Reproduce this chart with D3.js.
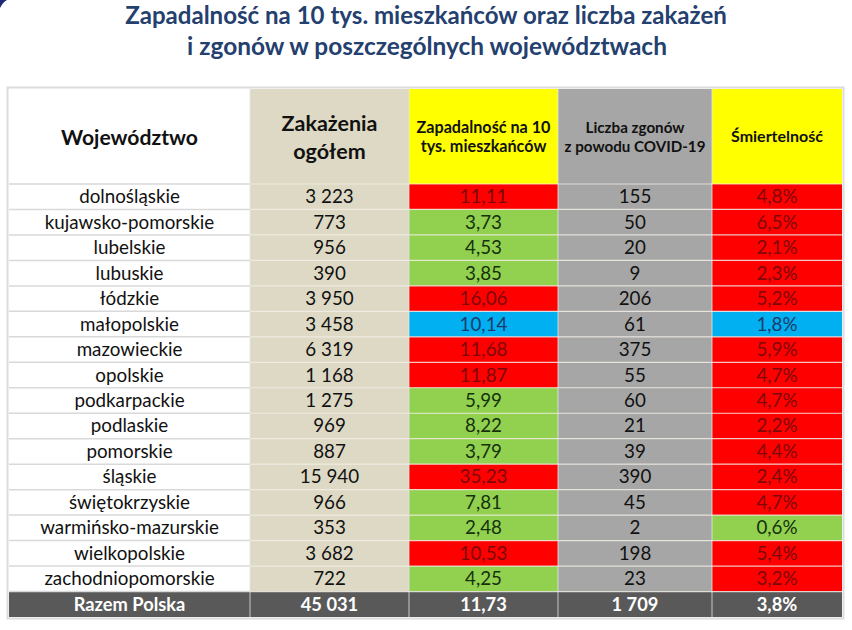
<!DOCTYPE html>
<html><head><meta charset="utf-8">
<script src="https://cdn.jsdelivr.net/npm/d3@7"></script>
<style>body{margin:0;background:#fff}svg{display:block}</style>
</head><body>
<svg id="c" width="852" height="630"></svg>
<script>
const titleLines = ["Zapadalność na 10 tys. mieszkańców oraz liczba zakażeń", "i zgonów w poszczególnych województwach"];
const headers = [["Województwo"], ["Zakażenia", "ogółem"], ["Zapadalność na 10", "tys. mieszkańców"], ["Liczba zgonów", "z powodu COVID-19"], ["Śmiertelność"]];
const regions = ["dolnośląskie","kujawsko-pomorskie","lubelskie","lubuskie","łódzkie","małopolskie","mazowieckie","opolskie","podkarpackie","podlaskie","pomorskie","śląskie","świętokrzyskie","warmińsko-mazurskie","wielkopolskie","zachodniopomorskie"];
const infections = [3223,773,956,390,3950,3458,6319,1168,1275,969,887,15940,966,353,3682,722];
const incidence = [11.11,3.73,4.53,3.85,16.06,10.14,11.68,11.87,5.99,8.22,3.79,35.23,7.81,2.48,10.53,4.25];
const deaths = [155,50,20,9,206,61,375,55,60,21,39,390,45,2,198,23];
const mortality = [4.8,6.5,2.1,2.3,5.2,1.8,5.9,4.7,4.7,2.2,4.4,2.4,4.7,0.6,5.4,3.2];
const incidenceClass = ["high","low","low","low","high","mid","high","high","low","low","low","high","low","low","high","low"];
const mortalityClass = ["high","high","high","high","high","mid","high","high","high","high","high","high","high","low","high","high"];
const totalLabel = "Razem Polska";
const totals = {infections:45031, incidence:11.73, deaths:1709, mortality:3.8};

const fillOf = {high:"#ff0000", low:"#92d050", mid:"#00b0f0"};
const textOf = {high:"#7c0808", low:"#15320b", mid:"#1b3a6b"};
const colFill = ["#ffffff","#ddd9c4","#ffff00","#a6a6a6","#ffff00"];
const colEdges = [9, 250, 409, 558, 712, 842];

const svg = d3.select("#c");
const FONT = "Lato, 'Open Sans', sans-serif";

const fmtInt = v => d3.format(",")(v).replace(/,/g, " ");
const fmtDec = v => d3.format(".2f")(v).replace(".", ",");
const fmtPct = v => d3.format(".1f")(v).replace(".", ",") + "%";

function fitText(sel, w) {
  const cur = sel.node().getComputedTextLength();
  const fs = parseFloat(sel.attr("font-size"));
  sel.attr("font-size", fs * w / cur);
}
const t1 = svg.append("text").attr("x", 426).attr("y", 24).attr("text-anchor","middle")
  .attr("font-family", FONT).attr("font-weight", 700).attr("font-size", 22).attr("fill", "#24406e").text(titleLines[0]);
fitText(t1, 602);
const t2 = svg.append("text").attr("x", 427).attr("y", 55).attr("text-anchor","middle")
  .attr("font-family", FONT).attr("font-weight", 700).attr("font-size", 22).attr("fill", "#24406e").text(titleLines[1]);
fitText(t2, 480);

svg.append("path").attr("d","M0,0 L7,0 Q3,2 0,8 Z").attr("fill","#1b2a7a");

const rowKeys = regions.concat([totalLabel]);
const y = d3.scaleBand().domain(rowKeys).range([184, 617]).padding(0);
const cols = d3.range(5);
const headerTop = 89, headerBottom = 184;

svg.append("rect").attr("x", colEdges[0]-1.5).attr("y", headerTop-1.5)
  .attr("width", colEdges[5]-colEdges[0]+3).attr("height", 617-headerTop+3)
  .attr("fill","none").attr("stroke","#dcdcdc").attr("stroke-width",2);

const hg = svg.append("g");
cols.forEach(i => {
  hg.append("rect").attr("x", colEdges[i]).attr("y", headerTop)
    .attr("width", colEdges[i+1]-colEdges[i]).attr("height", headerBottom-headerTop)
    .attr("fill", colFill[i]);
});
const cx = i => (colEdges[i]+colEdges[i+1])/2;
const headSpec = [
  {size:19, ys:[145], widths:[137]},
  {size:19, ys:[131,159], widths:[96]},
  {size:13.5, ys:[133,152], widths:[134]},
  {size:13.5, ys:[133,152], widths:[null,141]},
  {size:14, ys:[142], widths:[92]}
];
cols.forEach(i => {
  const g = hg.append("g");
  headers[i].forEach((line, j) => {
    g.append("text").attr("x", cx(i)).attr("y", headSpec[i].ys[j]).attr("text-anchor","middle")
      .attr("font-family", FONT).attr("font-weight", 700).attr("font-size", headSpec[i].size).attr("fill", "#111").text(line);
  });
  const arr = g.selectAll("text").nodes();
  const idx = headSpec[i].widths[0] != null ? 0 : 1;
  const k = headSpec[i].widths[idx] / arr[idx].getComputedTextLength();
  g.selectAll("text").attr("font-size", headSpec[i].size * k);
});

const rowsData = regions.map((r, i) => ({
  key: r,
  cells: [
    {text: r, fill: colFill[0], color: "#111"},
    {text: fmtInt(infections[i]), fill: colFill[1], color: "#111"},
    {text: fmtDec(incidence[i]), fill: fillOf[incidenceClass[i]], color: textOf[incidenceClass[i]]},
    {text: fmtInt(deaths[i]), fill: colFill[3], color: "#111"},
    {text: fmtPct(mortality[i]), fill: fillOf[mortalityClass[i]], color: textOf[mortalityClass[i]]}
  ], total:false
}));
rowsData.push({key: totalLabel, total:true, cells: [
  {text: totalLabel}, {text: fmtInt(totals.infections)}, {text: fmtDec(totals.incidence)},
  {text: fmtInt(totals.deaths)}, {text: fmtPct(totals.mortality)}
].map(c => Object.assign(c, {fill:"#595959", color:"#ffffff"}))});

const rg = svg.append("g").selectAll("g").data(rowsData).join("g")
  .attr("transform", d => `translate(0,${y(d.key)})`);
rg.selectAll("rect").data(d => d.cells).join("rect")
  .attr("x", (c,i) => colEdges[i]).attr("y", 0)
  .attr("width", (c,i) => colEdges[i+1]-colEdges[i]).attr("height", y.bandwidth())
  .attr("fill", c => c.fill);
rg.selectAll("text").data(d => d.cells.map(c => Object.assign({total:d.total}, c))).join("text")
  .attr("x", (c,i) => cx(i)).attr("y", y.bandwidth()/2 + 6.5)
  .attr("text-anchor","middle").attr("font-family", FONT)
  .attr("font-weight", c => c.total ? 700 : 400)
  .attr("font-size", c => c.total ? 18.3 : 18.8)
  .attr("fill", c => c.color).text(c => c.text);

const lines = svg.append("g");
rowKeys.forEach(k => {
  lines.append("line").attr("x1", colEdges[0]).attr("x2", colEdges[1]).attr("y1", y(k)).attr("y2", y(k))
    .attr("stroke", "#d9d9d9").attr("stroke-width", 1.5);
  lines.append("line").attr("x1", colEdges[1]).attr("x2", colEdges[5]).attr("y1", y(k)).attr("y2", y(k))
    .attr("stroke", "#f2eee6").attr("stroke-width", 1.2).attr("stroke-opacity", 0.8);
});
colEdges.slice(1,5).forEach(x => {
  lines.append("line").attr("x1", x).attr("x2", x).attr("y1", headerTop).attr("y2", 617)
    .attr("stroke", "#e6e6e6").attr("stroke-width", 1).attr("stroke-opacity", 0.8);
});
</script>
</body></html>
